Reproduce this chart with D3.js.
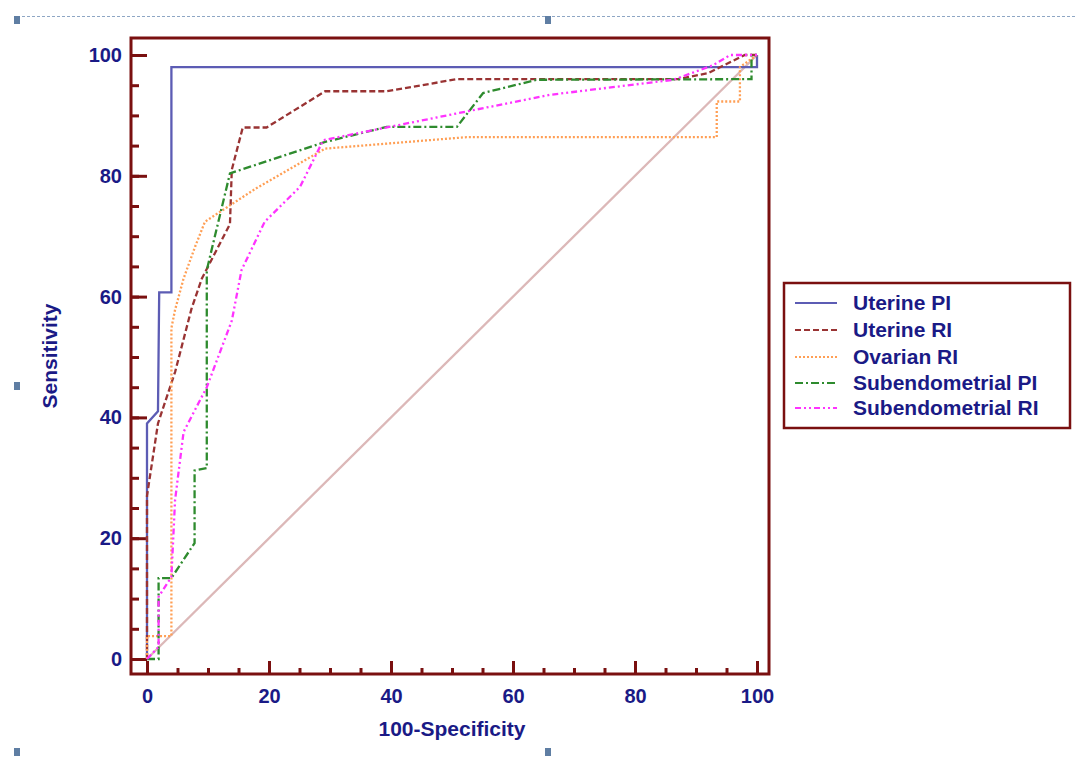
<!DOCTYPE html>
<html lang="en">
<head>
  <meta charset="UTF-8">
  <title>ROC curves</title>
  <style>
    body {
      margin: 0;
      background: #fff;
      overflow: hidden;
    }
    svg text {
      font-family: "Liberation Sans", Arial, sans-serif;
      font-weight: bold;
      fill: #1a1a86;
    }
    .axis text {
      font-size: 20px;
    }
    .axis line {
      stroke: #7a1010;
      stroke-width: 3;
    }
    .axis path {
      display: none;
    }
    .curve {
      fill: none;
      stroke-width: 2.3;
    }
  </style>
</head>
<body>
  <svg></svg>
  <script src="https://cdn.jsdelivr.net/npm/d3@7"></script>
  <script>
    var width = 1075
    var height = 758

    // curve points, [100-specificity, sensitivity]
    var uterinePI = [[0,0],[0,39],[1.8,41],[2,60.7],[4,60.7],[4,98],[100,98],[100,100]]
    var uterineRI = [[0,0],[0,27],[1.8,39],[4.6,47.5],[7.3,58],[9,63],[13.6,72],[13.9,81],[15.7,88],[19.6,88],
      [29.2,94],[39.3,94],[50.8,96],[87,96],[92,97],[95,98.5],[98,100],[100,100]]
    var ovarianRI = [[0,0],[0,3.8],[4,3.8],[4,54.8],[4.6,57.8],[6,63],[7.9,68.3],[9.5,72.4],[18,78],[29.2,84.5],
      [52.4,86.4],[93.4,86.4],[93.4,92.3],[97.2,92.3],[97.2,98],[100,100]]
    var subendoPI = [[0,0],[1.9,0],[1.9,13.4],[4,13.4],[7.8,19.2],[7.8,31.2],[9.8,31.6],[9.8,64.4],[13.6,80.4],
      [29.2,85.6],[39.3,88.1],[50.8,88.1],[55.1,93.7],[63.9,95.9],[99.1,96],[99.1,100],[100,100]]
    var subendoRI = [[0,0],[1.9,2],[1.9,10.3],[4,13.6],[4.6,26.3],[6,37.6],[9.8,45],[13.9,56],[15.5,64.4],
      [19.3,72.4],[25.1,78.2],[28.9,85.9],[66,93.4],[86.3,95.9],[92.8,98.3],[95.6,100],[100,100]]
    var diagonal = [[0,0],[100,100]]

    var seriesNames = ['Uterine PI', 'Uterine RI', 'Ovarian RI', 'Subendometrial PI', 'Subendometrial RI']
    var seriesData = [uterinePI, uterineRI, ovarianRI, subendoPI, subendoRI]
    var colors = ['#5c5cb4', '#993333', '#ff9f55', '#2e8b2e', '#ff33ff']
    var dashes = ['none', '6,3', '2,2', '8,3,2,3', '6,3,2,3,2,3']

    var majorTicks = [0, 20, 40, 60, 80, 100]
    var minorTicks = d3.range(0, 101, 5)

    var svg = d3.select('svg')
      .attr('width', width)
      .attr('height', height)

    // slide selection marks
    svg.append('line')
      .attr('x1', 17).attr('x2', 1075).attr('y1', 16.5).attr('y2', 16.5)
      .attr('stroke', '#8ea6c4').attr('stroke-dasharray', '3,2')
    ;[[17, 20], [548, 20], [17, 386], [17, 752], [548, 752]].forEach(p => {
      svg.append('rect')
        .attr('x', p[0] - 3).attr('y', p[1] - 4).attr('width', 6).attr('height', 8)
        .attr('fill', '#5f7ea3')
    })

    var x = d3.scaleLinear().domain([0, 100]).range([147, 757])
    var y = d3.scaleLinear().domain([0, 100]).range([659, 55])

    var frame = {left: 131, top: 38, right: 769, bottom: 674}

    // minor ticks
    svg.append('g')
      .attr('class', 'axis')
      .attr('transform', `translate(0,${frame.bottom})`)
      .call(d3.axisBottom(x).tickValues(minorTicks).tickSize(-6).tickFormat(''))
    svg.append('g')
      .attr('class', 'axis')
      .attr('transform', `translate(${frame.left},0)`)
      .call(d3.axisLeft(y).tickValues(minorTicks).tickSize(-8).tickFormat(''))

    // major ticks + labels
    svg.append('g')
      .attr('class', 'axis')
      .attr('transform', `translate(0,${frame.bottom})`)
      .call(d3.axisBottom(x).tickValues(majorTicks).tickSize(-13).tickPadding(15))
    svg.append('g')
      .attr('class', 'axis')
      .attr('transform', `translate(${frame.left},0)`)
      .call(d3.axisLeft(y).tickValues(majorTicks).tickSize(-16).tickPadding(9))

    svg.append('rect')
      .attr('x', frame.left).attr('y', frame.top)
      .attr('width', frame.right - frame.left).attr('height', frame.bottom - frame.top)
      .attr('fill', 'none').attr('stroke', '#7a1010').attr('stroke-width', 3)

    var line = d3.line().x(d => x(d[0])).y(d => y(d[1]))

    svg.append('path')
      .attr('class', 'curve')
      .attr('d', line(diagonal))
      .attr('stroke', '#dcb8b8')
      .attr('stroke-width', 1.5)

    svg.selectAll('path.roc')
      .data(seriesData)
      .enter()
      .append('path')
      .attr('class', 'curve roc')
      .attr('d', d => line(d))
      .attr('stroke', (d, i) => colors[i])
      .attr('stroke-dasharray', (d, i) => dashes[i])

    // axis titles
    svg.append('text')
      .attr('x', 452).attr('y', 736)
      .attr('text-anchor', 'middle')
      .attr('font-size', 21)
      .text('100-Specificity')
    svg.append('text')
      .attr('transform', 'translate(57,356) rotate(-90)')
      .attr('text-anchor', 'middle')
      .attr('font-size', 21)
      .text('Sensitivity')

    // legend
    var legend = svg.append('g')
    legend.append('rect')
      .attr('x', 784).attr('y', 283).attr('width', 286).attr('height', 145)
      .attr('fill', '#fff').attr('stroke', '#7a1010').attr('stroke-width', 2.5)
    var rows = [303, 330, 357, 383, 408]
    seriesNames.forEach((name, i) => {
      legend.append('line')
        .attr('x1', 795).attr('x2', 837).attr('y1', rows[i]).attr('y2', rows[i])
        .attr('stroke', colors[i]).attr('stroke-width', 2)
        .attr('stroke-dasharray', dashes[i])
      legend.append('text')
        .attr('x', 853).attr('y', rows[i] + 7)
        .attr('font-size', 21)
        .text(name)
    })
  </script>
</body>
</html>
